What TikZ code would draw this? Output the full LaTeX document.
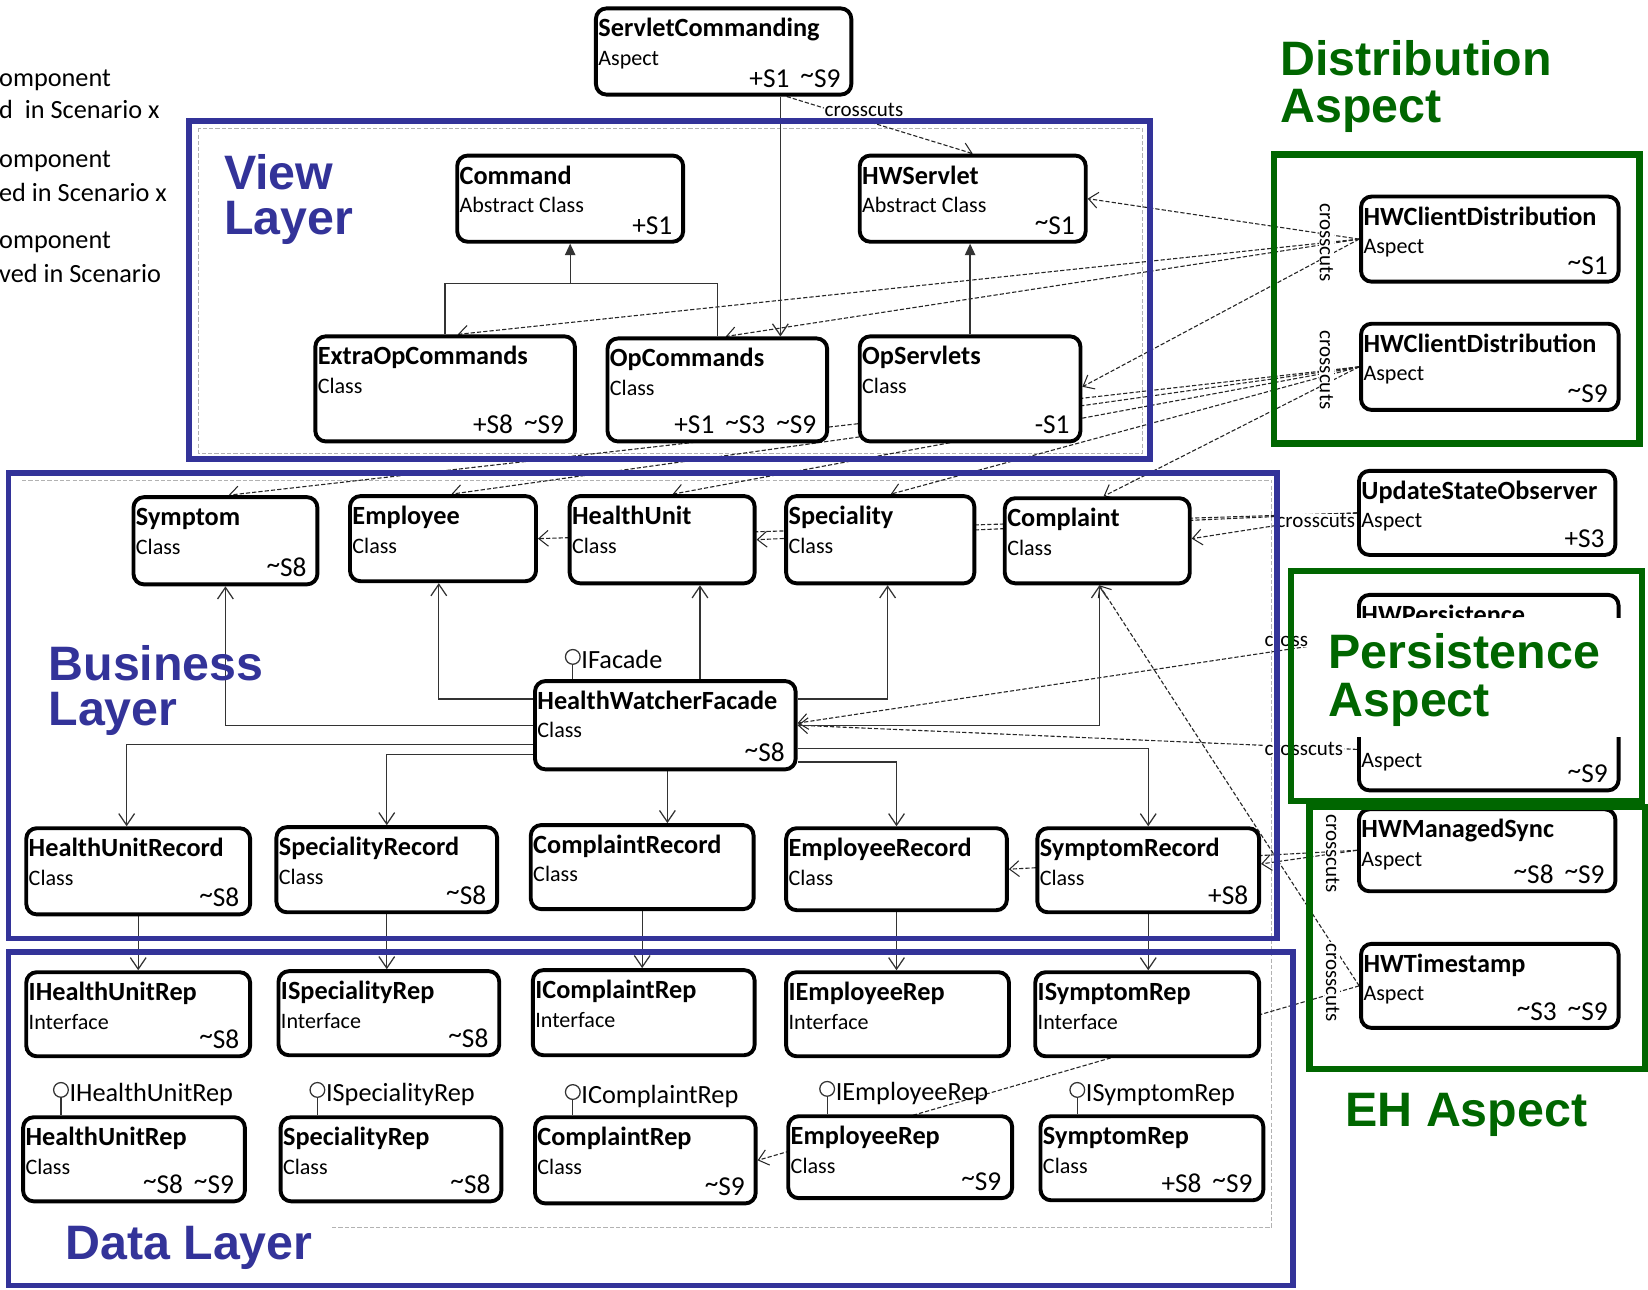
\documentclass[tikz,border=0pt]{standalone}
\usepackage{fontspec}
\setmainfont{Carlito}
\newfontfamily\layerfont{Liberation Sans}
\usetikzlibrary{arrows.meta}
\definecolor{layerblue}{RGB}{51,51,153}
\definecolor{aspgreen}{RGB}{0,102,0}
\pgfdeclarelayer{bg}
\pgfdeclarelayer{fg}
\pgfsetlayers{bg,main,fg}
\newcommand{\tld}{\raisebox{0.14em}{\textasciitilde}}
\newcommand{\tgap}{\hspace{0.4em}}
\tikzset{
  umlbox/.style={draw=black, line width=3.7pt, rounded corners=10pt, fill=white, inner sep=0pt},
  ttl/.style={font=\fontsize{25}{28}\selectfont\bfseries, inner sep=0pt, anchor=base west},
  typ/.style={font=\fontsize{21}{24}\selectfont, inner sep=0pt, anchor=base west},
  tagtxt/.style={font=\fontsize{26}{28}\selectfont, inner sep=0pt, anchor=base east},
  xcut/.style={draw=black!85, line width=1.05pt, dash pattern=on 4pt off 2pt},
  xarr/.style={xcut, -{Straight Barb[length=9pt,width=15pt,line width=1pt]}},
  sline/.style={draw=black!80, line width=1.2pt},
  assoc/.style={sline, -{Straight Barb[length=11pt,width=15pt]}},
  gen/.style={sline, -{Triangle[length=11pt,width=10pt]}},
  xlbl/.style={font=\fontsize{20}{22}\selectfont, inner sep=1pt, fill=white},
  lolli/.style={circle, draw=black!80, line width=1.2pt, minimum size=14pt, inner sep=0pt, fill=white},
  lollitxt/.style={font=\fontsize{25}{27}\selectfont, inner sep=0pt, anchor=base west},
  bframe/.style={draw=layerblue, line width=5.5pt},
  gframe/.style={draw=aspgreen, line width=6pt},
  lyr/.style={font=\layerfont\bfseries\fontsize{46}{50}\selectfont, text=layerblue, inner sep=0pt, anchor=base west},
  asp/.style={lyr, text=aspgreen},
  legend/.style={font=\fontsize{25}{27}\selectfont, inner sep=0pt, anchor=base west},
  innerframe/.style={draw=black!30, line width=0.8pt, dash pattern=on 4pt off 2pt},
}
\newcommand{\umlbox}[8]{%
  \node[umlbox, minimum width={(#4-#2)*1pt}, minimum height={(#5-#3)*1pt}] (#1) at ({(#2+#4)/2},{(#3+#5)/2}) {};
  \node[ttl] (#1-t) at ([xshift=4pt,yshift=-29pt]#1.north west) {#6};
  \node[typ] (#1-s) at ([xshift=4pt,yshift=-56pt]#1.north west) {#7};
  \node[tagtxt] (#1-g) at ([xshift=-12pt,yshift=9pt]#1.south east) {#8};
}
\begin{document}
\begin{tikzpicture}[x=1pt,y=-1pt]
\useasboundingbox (0,0) rectangle (1568,1227);

% legend (cut off on the left)
\node[legend] (lg1) at (-1,82) {omponent};
\node[legend] (lg2) at (-1,113) {d\ \ in Scenario x};
\node[legend] (lg3) at (-1,159) {omponent};
\node[legend] (lg4) at (-1,192) {ed in Scenario x};
\node[legend] (lg5) at (-1,236) {omponent};
\node[legend] (lg6) at (-1,269) {ved in Scenario};

% boxes
\umlbox{SC}{567}{8}{810}{90}{ServletCommanding}{Aspect}{+S1\tgap\tld S9}
\umlbox{Command}{435}{148}{650}{230}{Command}{Abstract Class}{+S1}
\umlbox{HWServlet}{818}{148}{1033}{230}{HWServlet}{Abstract Class}{\tld S1}
\umlbox{ExtraOp}{300}{320}{547}{420}{ExtraOpCommands}{Class}{+S8\tgap\tld S9}
\umlbox{OpCmd}{578}{322}{787}{420}{OpCommands}{Class}{+S1\tgap\tld S3\tgap\tld S9}
\umlbox{OpServ}{818}{320}{1028}{420}{OpServlets}{Class}{-S1}
\umlbox{HCD1}{1295}{187}{1540}{268}{HWClientDistribution}{Aspect}{\tld S1}
\umlbox{HCD9}{1295}{308}{1540}{390}{HWClientDistribution}{Aspect}{\tld S9}
\umlbox{Symptom}{127}{473}{302}{556}{Symptom}{Class}{\tld S8}
\umlbox{Employee}{333}{472}{510}{553}{Employee}{Class}{}
\umlbox{HealthUnit}{542}{472}{718}{555}{HealthUnit}{Class}{}
\umlbox{Speciality}{748}{472}{927}{555}{Speciality}{Class}{}
\umlbox{Complaint}{956}{474}{1132}{555}{Complaint}{Class}{}
\umlbox{USO}{1293}{448}{1537}{528}{UpdateStateObserver}{Aspect}{+S3}
\umlbox{HWP}{1293}{566}{1540}{752}{HWPersistence}{}{\tld S9}
\node[typ] (HWP-a) at ([xshift=4pt,yshift=24pt]HWP.south west) {Aspect};
\umlbox{Facade}{509}{648}{757}{732}{HealthWatcherFacade}{Class}{\tld S8}
\umlbox{HMS}{1293}{770}{1537}{848}{HWManagedSync}{Aspect}{\tld S8\tgap\tld S9}
\umlbox{HWT}{1295}{898}{1540}{978}{HWTimestamp}{Aspect}{\tld S3\tgap\tld S9}
\umlbox{HURec}{25}{788}{238}{870}{HealthUnitRecord}{Class}{\tld S8}
\umlbox{SpRec}{263}{787}{473}{868}{SpecialityRecord}{Class}{\tld S8}
\umlbox{CoRec}{505}{785}{717}{865}{ComplaintRecord}{Class}{}
\umlbox{EmRec}{748}{788}{958}{866}{EmployeeRecord}{Class}{}
\umlbox{SyRec}{987}{788}{1198}{868}{SymptomRecord}{Class}{+S8}
\umlbox{IHU}{25}{925}{238}{1005}{IHealthUnitRep}{Interface}{\tld S8}
\umlbox{ISp}{265}{924}{475}{1004}{ISpecialityRep}{Interface}{\tld S8}
\umlbox{ICo}{507}{923}{718}{1004}{IComplaintRep}{Interface}{}
\umlbox{IEm}{748}{925}{960}{1005}{IEmployeeRep}{Interface}{}
\umlbox{ISy}{985}{925}{1198}{1005}{ISymptomRep}{Interface}{}
\umlbox{HURep}{22}{1063}{233}{1143}{HealthUnitRep}{Class}{\tld S8\tgap\tld S9}
\umlbox{SpRep}{267}{1063}{477}{1143}{SpecialityRep}{Class}{\tld S8}
\umlbox{CoRep}{509}{1063}{719}{1145}{ComplaintRep}{Class}{\tld S9}
\umlbox{EmRep}{750}{1062}{963}{1140}{EmployeeRep}{Class}{\tld S9}
\umlbox{SyRep}{990}{1062}{1202}{1142}{SymptomRep}{Class}{+S8\tgap\tld S9}

% lollipops
\node[lolli] (lfac) at (545,625) {};
\node[lollitxt] (tfac) at (553,636) {IFacade};
\node[lolli] (lhu) at (58,1037) {};
\node[lollitxt] (thu) at (66,1048) {IHealthUnitRep};
\node[lolli] (lsp) at (302,1037) {};
\node[lollitxt] (tsp) at (310,1048) {ISpecialityRep};
\node[lolli] (lco) at (545,1039) {};
\node[lollitxt] (tco) at (553,1050) {IComplaintRep};
\node[lolli] (lem) at (787,1036) {};
\node[lollitxt] (tem) at (795,1047) {IEmployeeRep};
\node[lolli] (lsy) at (1025,1037) {};
\node[lollitxt] (tsy) at (1033,1048) {ISymptomRep};

% crosscuts labels
\node[xlbl] (lblSC) at (822,105) {crosscuts};
\node[xlbl, rotate=-90] (lblHCD1) at (1262,231) {crosscuts};
\node[xlbl, rotate=-90] (lblHCD9) at (1262,352) {crosscuts};
\node[xlbl] (lblUSO) at (1252,496) {crosscuts};
\node[xlbl, anchor=west] (lblHWP1) at (1202,610) {cross};
\node[xlbl, anchor=west] (lblHWP2) at (1202,713) {crosscuts};
\node[xlbl, rotate=-90] (lblHMS) at (1268,812) {crosscuts};
\node[xlbl, rotate=-90] (lblHWT) at (1268,935) {crosscuts};

\begin{pgfonlayer}{bg}
  % faint package outlines
  \draw[innerframe] (189,122) rectangle (1087,431);
  \draw[innerframe] (21,457) -- (1210,457) -- (1210,1168) -- (21,1168);
  % crosscut dependencies
  \draw[xarr] ([xshift=60pt]SC.south) -- (HWServlet.north);
  \draw[xarr] (HCD1.west) -- (HWServlet.east);
  \draw[xarr] (HCD1.west) -- ([xshift=12pt]ExtraOp.north);
  \draw[xarr] (HCD1.west) -- ([xshift=8pt]OpCmd.north);
  \draw[xarr] (HCD1.west) -- ([yshift=2pt]OpServ.east);
  \draw[xarr] (HCD9.west) -- ([xshift=3pt]Symptom.north);
  \draw[xarr] (HCD9.west) -- ([xshift=8pt]Employee.north);
  \draw[xarr] (HCD9.west) -- ([xshift=10pt]HealthUnit.north);
  \draw[xarr] (HCD9.west) -- ([xshift=10pt]Speciality.north);
  \draw[xarr] (HCD9.west) -- ([xshift=6pt]Complaint.north);
  \draw[xarr] (USO.west) -- ([yshift=2pt]Complaint.east);
  \draw[xarr] (USO.west) -- (HealthUnit.east);
  \draw[xarr] (USO.west) -- (Employee.east);
  \draw[xarr] ([yshift=51pt]HWP.west) -- ([yshift=2pt]Facade.east);
  \draw[xarr] ([yshift=-54pt]HWP.west) -- (Facade.east);
  \draw[xarr] (HMS.west) -- ([yshift=6pt]SyRec.east);
  \draw[xarr] (HMS.west) -- (EmRec.east);
  \draw[xarr] (HWT.west) -- ([xshift=2pt]Complaint.south);
  \draw[xarr] (HWT.west) -- (CoRep.east);
  % solid relations
  \draw[assoc] ([xshift=60pt]OpCmd.north |- SC.south) -- ([xshift=60pt]OpCmd.north);
  \coordinate (cmdj) at (Command.south |- 0,270);
  \draw[sline] (ExtraOp.north) |- (cmdj) -| (OpCmd.north);
  \draw[gen] (cmdj) -- (Command.south);
  \draw[gen] (OpServ.north) -- (OpServ.north |- HWServlet.south);
  \draw[assoc] (Facade.west) -| (Symptom.south);
  \draw[assoc] ([yshift=25pt]Facade.west) -| ([xshift=-4pt]Employee.south);
  \draw[assoc] ([xshift=33pt]Facade.north) -- ([xshift=33pt]Facade.north |- HealthUnit.south);
  \draw[assoc] ([yshift=25pt]Facade.east) -| ([xshift=7pt]Speciality.south);
  \draw[assoc] (Facade.east) -| ([xshift=2pt]Complaint.south);
  \draw[assoc] ([yshift=-18pt]Facade.west) -| ([xshift=-11pt]HURec.north);
  \draw[assoc] ([yshift=-28pt]Facade.west) -| (SpRec.north);
  \draw[assoc] ([xshift=2pt]Facade.south) -- ([xshift=2pt]Facade.south |- CoRec.north);
  \draw[assoc] ([yshift=-35pt]Facade.east) -| (EmRec.north);
  \draw[assoc] ([yshift=-22pt]Facade.east) -| (SyRec.north);
  \draw[assoc] (HURec.south) -- (HURec.south |- IHU.north);
  \draw[assoc] (SpRec.south) -- (SpRec.south |- ISp.north);
  \draw[assoc] (CoRec.south) -- (CoRec.south |- ICo.north);
  \draw[assoc] (EmRec.south) -- (EmRec.south |- IEm.north);
  \draw[assoc] (SyRec.south) -- (SyRec.south |- ISy.north);
  % lollipop stems
  \draw[sline] (lfac.south) -- (lfac.south |- Facade.north);
  \draw[sline] (lhu.south) -- (lhu.south |- HURep.north);
  \draw[sline] (lsp.south) -- (lsp.south |- SpRep.north);
  \draw[sline] (lco.south) -- (lco.south |- CoRep.north);
  \draw[sline] (lem.south) -- (lem.south |- EmRep.north);
  \draw[sline] (lsy.south) -- (lsy.south |- SyRep.north);
\end{pgfonlayer}

\begin{pgfonlayer}{fg}
  \fill[white] (1245,588) rectangle (1546,701);
  \fill[white] (15,1152) rectangle (315,1215);
  \draw[bframe] (180,115) rectangle (1094,437);
  \draw[bframe] (8,450) rectangle (1215,893);
  \draw[bframe] (8,906) rectangle (1230,1223);
  \draw[gframe] (1212,147) rectangle (1560,422);
  \draw[gframe] (1228,543) rectangle (1562,762);
  \draw[gframe] (1246,768) rectangle (1565,1017);
  \node[lyr] (lblView) at (213,180) {View};
  \node[lyr] (lblView2) at (213,223) {Layer};
  \node[lyr] (lblBus) at (46,647) {Business};
  \node[lyr] (lblBus2) at (46,690) {Layer};
  \node[lyr] (lblData) at (62,1198) {Data Layer};
  \node[asp] (lblDist) at (1218,72) {Distribution};
  \node[asp] (lblDist2) at (1218,117) {Aspect};
  \node[asp] (lblPers) at (1264,636) {Persistence};
  \node[asp] (lblPers2) at (1264,682) {Aspect};
  \node[asp] (lblEH) at (1280,1072) {EH Aspect};
\end{pgfonlayer}
\end{tikzpicture}
\end{document}
